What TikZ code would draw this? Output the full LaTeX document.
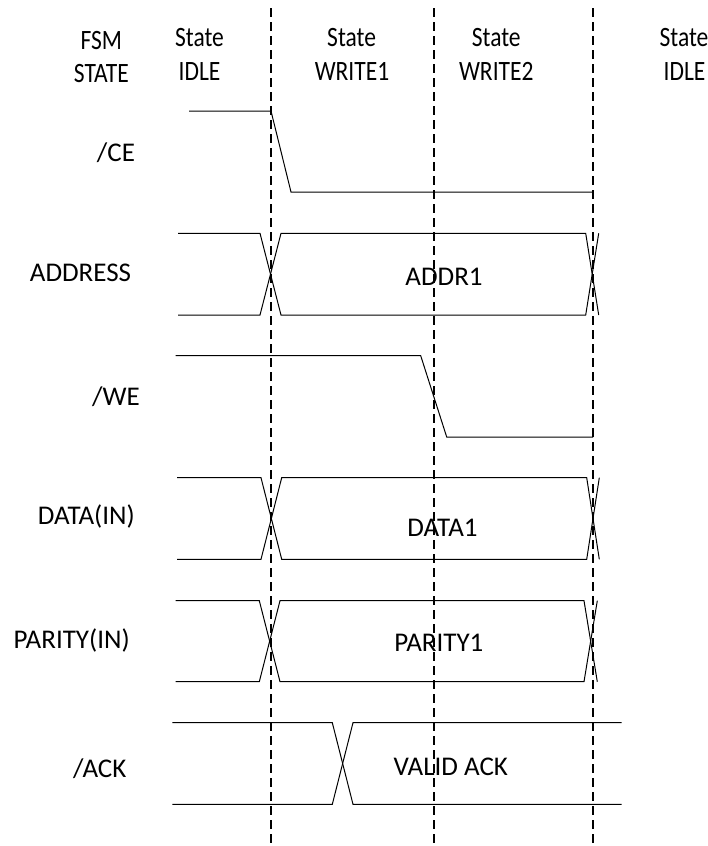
\documentclass[tikz,border=0pt]{standalone}
\usepackage{fontspec}
\setmainfont{Carlito}
\begin{document}
\begin{tikzpicture}[x=1pt,y=-1pt,
  sig/.style={line width=1pt, line join=miter},
  guide/.style={line width=1.8pt, dash pattern=on 9pt off 5pt},
  lbl/.style={anchor=base, inner sep=0pt, font=\fontsize{27}{32}\selectfont},
  hdr/.style={anchor=base, inner sep=0pt, xscale=0.84, font=\fontsize{28}{33}\selectfont}]
\useasboundingbox (0,0) rectangle (707,846);

% header
\node[hdr] (fsm1) at (101.3,49.5) {FSM};
\node[hdr] (fsm2) at (101.4,82.5) {STATE};
\node[hdr] (h1a) at (199.5,46) {State};
\node[hdr] (h1b) at (199.5,80.5) {IDLE};
\node[hdr] (h2a) at (351.6,46) {State};
\node[hdr] (h2b) at (352,80.5) {WRITE1};
\node[hdr] (h3a) at (496.3,46) {State};
\node[hdr] (h3b) at (496.3,80.5) {WRITE2};
\node[hdr] (h4a) at (684,46) {State};
\node[hdr] (h4b) at (684.5,80.5) {IDLE};

% signal names
\node[lbl] (lce) at (116,161) {/CE};
\node[lbl] (laddr) at (80.5,281) {ADDRESS};
\node[lbl] (lwe) at (116,405.3) {/WE};
\node[lbl] (ldata) at (86.3,524.3) {DATA(IN)};
\node[lbl] (lpar) at (71.7,648.3) {PARITY(IN)};
\node[lbl] (lack) at (99.7,777.7) {/ACK};

% dashed state boundaries
\draw[guide] (271,8) -- (271,846);
\draw[guide] (434,8) -- (434,846);
\draw[guide] (593,8) -- (593,846);

% /CE
\draw[sig] (189,111) -- (271,111) -- (291,192) -- (592,192);

% ADDRESS
\draw[sig] (178,233.3) -- (260,233.3) -- (281,315) -- (585.7,315) -- (598.7,233.3);
\draw[sig] (178,315) -- (260,315) -- (281,233.3) -- (585.7,233.3) -- (598.7,315);
\node[lbl] (addr1) at (444,285.7) {ADDR1};

% /WE
\draw[sig] (175.7,355.7) -- (420.7,355.7) -- (446.7,437) -- (593,437);

% DATA(IN)
\draw[sig] (177,477.7) -- (261,477.7) -- (281.7,559.3) -- (586.7,559.3) -- (599.3,477.7);
\draw[sig] (177,559.3) -- (261,559.3) -- (281.7,477.7) -- (586.7,477.7) -- (599.3,559.3);
\node[lbl] (data1) at (442.5,536) {DATA1};

% PARITY(IN)
\draw[sig] (175.7,600.7) -- (259.3,600.7) -- (280,681.7) -- (584,681.7) -- (597.3,600.7);
\draw[sig] (175.7,681.7) -- (259.3,681.7) -- (280,600.7) -- (584,600.7) -- (597.3,681.7);
\node[lbl] (par1) at (438.8,651.7) {PARITY1};

% /ACK
\draw[sig] (172.3,722.7) -- (332.3,722.7) -- (353,804.3) -- (621.7,804.3);
\draw[sig] (172.3,804.3) -- (332.3,804.3) -- (353,722.7) -- (621.7,722.7);
\node[lbl] (vack) at (450.8,775) {VALID ACK};
\end{tikzpicture}
\end{document}
